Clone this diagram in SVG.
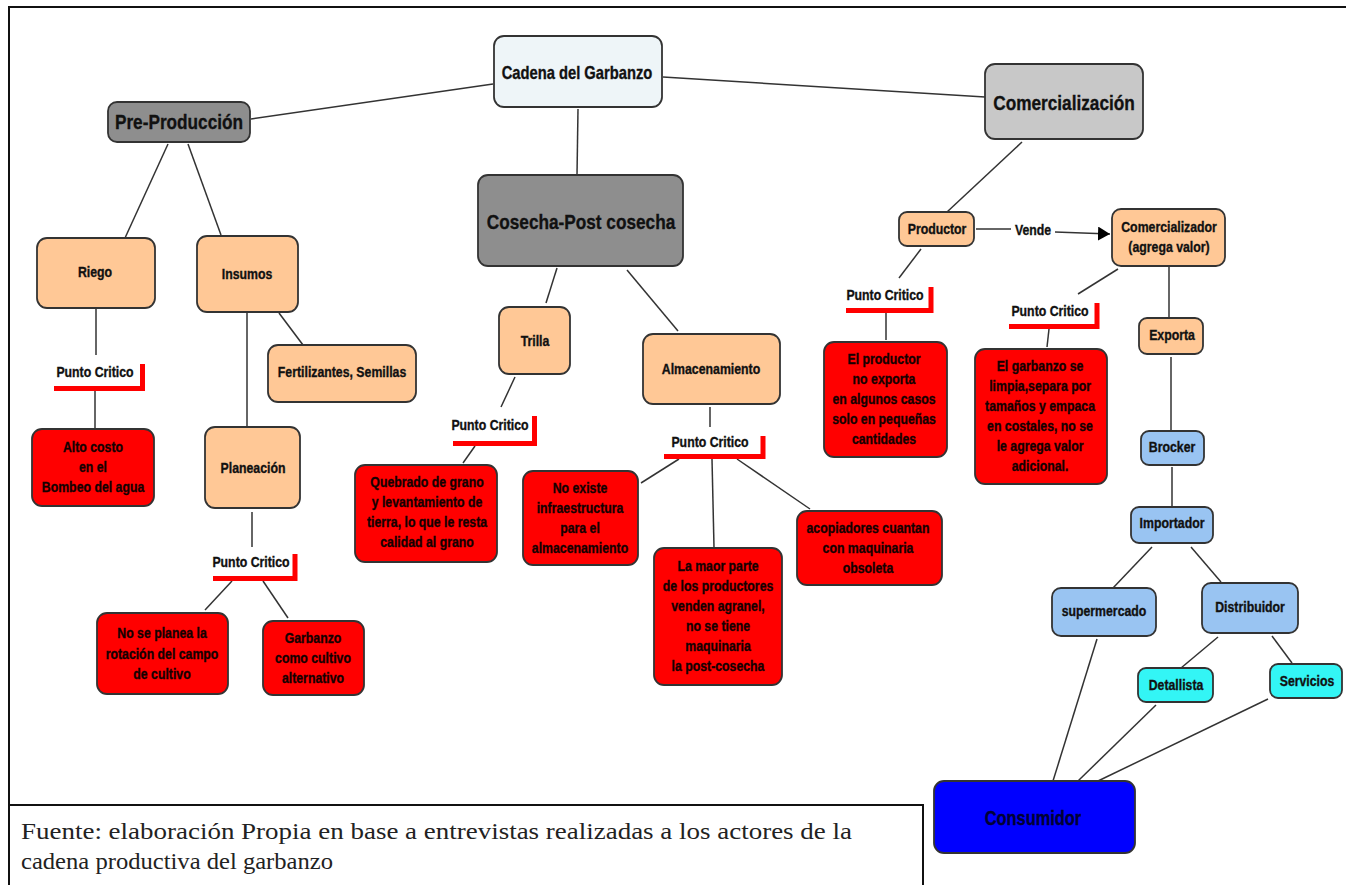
<svg xmlns="http://www.w3.org/2000/svg" width="1346" height="885" viewBox="0 0 1346 885">
<defs>
<style>
.b{stroke:#333;stroke-width:1.8}
.g{fill:#8e8e8e}
.lg{fill:#c8c8c8}
.w{fill:#eef5f8}
.p{fill:#ffc896}
.r{fill:#ff0000}
.bl{fill:#99c4f2}
.cy{fill:#33f5f5}
.db{fill:#0000ff}
text{font-family:"Liberation Sans",Arial,sans-serif;font-weight:bold;text-anchor:middle;fill:#111;stroke:#111;stroke-width:.35;transform-box:fill-box;transform-origin:center;transform:scaleX(.82)}
.s{font-size:15px}
.rt{font-size:15px;fill:#140000;stroke:#140000}
.pc{font-size:15px}
.L{fill:none;stroke:#ff0000;stroke-width:5;stroke-linejoin:miter}
.c line{stroke:#333;stroke-width:1.5}
text.foot{font-family:"Liberation Serif","Times New Roman",serif;font-weight:normal;text-anchor:start;font-size:23px;fill:#222;stroke:none;transform:none}
</style>
<marker id="arr" markerUnits="userSpaceOnUse" markerWidth="13" markerHeight="15" refX="12" refY="7" orient="auto">
<path d="M0,0 L12,7 L0,14 z" fill="#000"/>
</marker>
</defs>
<rect width="1346" height="885" fill="#fff"/>
<g id="frame" fill="none" stroke="#111" stroke-width="2">
<path d="M9,886 V7 H1346"/>
<path d="M9,805 H923 V886"/>
</g>
<g class="c" id="connectors">
<line x1="251" y1="119" x2="493" y2="84"/>
<line x1="578" y1="109" x2="577" y2="175"/>
<line x1="663" y1="77" x2="985" y2="97"/>
<line x1="168" y1="144" x2="125" y2="238"/>
<line x1="188" y1="144" x2="221" y2="235"/>
<line x1="96" y1="308" x2="96" y2="355"/>
<line x1="95" y1="391" x2="95" y2="428"/>
<line x1="247" y1="312" x2="247" y2="427"/>
<line x1="279" y1="313" x2="303" y2="345"/>
<line x1="252" y1="512" x2="252" y2="547"/>
<line x1="232" y1="581" x2="205" y2="610"/>
<line x1="263" y1="581" x2="288" y2="618"/>
<line x1="557" y1="268" x2="546" y2="303"/>
<line x1="627" y1="270" x2="678" y2="331"/>
<line x1="515" y1="377" x2="501" y2="407"/>
<line x1="475" y1="446" x2="463" y2="463"/>
<line x1="710" y1="407" x2="710" y2="427"/>
<line x1="679" y1="459" x2="641" y2="483"/>
<line x1="712" y1="459" x2="714" y2="547"/>
<line x1="737" y1="459" x2="810" y2="509"/>
<line x1="1022" y1="142" x2="947" y2="212"/>
<line x1="976" y1="229" x2="1011" y2="229"/>
<line x1="1055" y1="232" x2="1110" y2="234" marker-end="url(#arr)"/>
<line x1="921" y1="249" x2="899" y2="278"/>
<line x1="886" y1="313" x2="886" y2="340"/>
<line x1="1118" y1="269" x2="1078" y2="294"/>
<line x1="1049" y1="329" x2="1047" y2="347"/>
<line x1="1169" y1="266" x2="1169" y2="318"/>
<line x1="1171" y1="357" x2="1171" y2="431"/>
<line x1="1172" y1="467" x2="1172" y2="507"/>
<line x1="1152" y1="547" x2="1113" y2="588"/>
<line x1="1191" y1="547" x2="1221" y2="582"/>
<line x1="1097" y1="639" x2="1053" y2="781"/>
<line x1="1218" y1="637" x2="1181" y2="668"/>
<line x1="1272" y1="636" x2="1292" y2="663"/>
<line x1="1156" y1="705" x2="1078" y2="781"/>
<line x1="1268" y1="699" x2="1098" y2="781"/>
<text x="1033" y="235" class="s">Vende</text>
</g>
<g id="cadena"><rect class="b w" x="494" y="36" width="168" height="71" rx="10"/><text x="577" y="79.5" style="font-size:18px">Cadena del Garbanzo</text></g>
<g id="preproduccion"><rect class="b g" x="108" y="102" width="142" height="40" rx="9"/><text x="179" y="129.5" style="font-size:21px">Pre-Producción</text></g>
<g id="cosecha"><rect class="b g" x="478" y="175" width="205" height="91" rx="10"/><text x="581" y="229.5" style="font-size:21px">Cosecha-Post cosecha</text></g>
<g id="comercializacion"><rect class="b lg" x="985" y="64" width="158" height="75" rx="10"/><text x="1064" y="110.5" style="font-size:21px">Comercialización</text></g>
<g id="riego"><rect class="b p" x="37" y="238" width="118" height="70" rx="10"/><text x="95" y="277" class="s">Riego</text></g>
<g id="insumos"><rect class="b p" x="197" y="236" width="101" height="76" rx="10"/><text x="247" y="279" class="s">Insumos</text></g>
<g id="fertilizantes"><rect class="b p" x="268" y="345" width="148" height="57" rx="10"/><text x="342" y="377" class="s">Fertilizantes, Semillas</text></g>
<g id="planeacion"><rect class="b p" x="205" y="427" width="95" height="81" rx="10"/><text x="253" y="473" class="s">Planeación</text></g>
<g id="trilla"><rect class="b p" x="499" y="307" width="71" height="67" rx="10"/><text x="535" y="346" class="s">Trilla</text></g>
<g id="almacenamiento"><rect class="b p" x="643" y="334" width="137" height="70" rx="10"/><text x="711" y="374" class="s">Almacenamiento</text></g>
<g id="productor"><rect class="b p" x="899" y="212" width="75" height="34" rx="8"/><text x="937" y="234" class="s">Productor</text></g>
<g id="comercializador"><rect class="b p" x="1112" y="209" width="113" height="57" rx="9"/><text x="1169" y="232" class="s">Comercializador</text><text x="1169" y="252" class="s">(agrega valor)</text></g>
<g id="exporta"><rect class="b p" x="1139" y="318" width="64" height="36" rx="8"/><text x="1172" y="340" class="s">Exporta</text></g>
<g id="brocker"><rect class="b bl" x="1141" y="431" width="63" height="34" rx="8"/><text x="1172" y="452" class="s">Brocker</text></g>
<g id="importador"><rect class="b bl" x="1131" y="507" width="82" height="36" rx="8"/><text x="1172" y="528" class="s">Importador</text></g>
<g id="supermercado"><rect class="b bl" x="1052" y="588" width="104" height="48" rx="9"/><text x="1104" y="616" class="s">supermercado</text></g>
<g id="distribuidor"><rect class="b bl" x="1202" y="583" width="96" height="50" rx="9"/><text x="1250" y="612" class="s">Distribuidor</text></g>
<g id="detallista"><rect class="b cy" x="1138" y="668" width="75" height="34" rx="8"/><text x="1176" y="690" class="s">Detallista</text></g>
<g id="servicios"><rect class="b cy" x="1270" y="664" width="72" height="34" rx="8"/><text x="1307" y="686" class="s">Servicios</text></g>
<g id="consumidor"><rect class="b db" x="934" y="781" width="201" height="72" rx="10"/><text x="1033" y="825" style="font-size:20px;fill:#000033;stroke:#000033">Consumidor</text></g>
<g id="pc1"><path class="L" d="M54,388.5 H142.5 V364"/><text x="95" y="377" class="pc">Punto Critico</text></g>
<g id="pc2"><path class="L" d="M213,578.5 H295 V554"/><text x="251" y="567" class="pc">Punto Critico</text></g>
<g id="pc3"><path class="L" d="M453,443.5 H534.5 V416"/><text x="490" y="430" class="pc">Punto Critico</text></g>
<g id="pc4"><path class="L" d="M664,456.5 H763 V436"/><text x="710" y="447" class="pc">Punto Critico</text></g>
<g id="pc5"><path class="L" d="M846,310.5 H931 V287"/><text x="885" y="300" class="pc">Punto Critico</text></g>
<g id="pc6"><path class="L" d="M1009,326.5 H1097 V303"/><text x="1050" y="316" class="pc">Punto Critico</text></g>
<g id="alto"><rect class="b r" x="32" y="429" width="122" height="77" rx="10"/><text class="rt" x="93" y="452">Alto costo</text><text class="rt" x="93" y="472">en el</text><text class="rt" x="93" y="492">Bombeo del agua</text></g>
<g id="noplanea"><rect class="b r" x="97" y="613" width="131" height="81" rx="10"/><text class="rt" x="162" y="638">No se planea la</text><text class="rt" x="162" y="659">rotación del campo</text><text class="rt" x="162" y="679">de cultivo</text></g>
<g id="garbanzo"><rect class="b r" x="263" y="621" width="101" height="74" rx="10"/><text class="rt" x="313" y="643">Garbanzo</text><text class="rt" x="313" y="663">como cultivo</text><text class="rt" x="313" y="683">alternativo</text></g>
<g id="quebrado"><rect class="b r" x="355" y="465" width="142" height="97" rx="10"/><text class="rt" x="427" y="487">Quebrado de grano</text><text class="rt" x="427" y="507">y levantamiento de</text><text class="rt" x="427" y="527">tierra, lo que le resta</text><text class="rt" x="427" y="547">calidad al grano</text></g>
<g id="noexiste"><rect class="b r" x="523" y="471" width="115" height="94" rx="10"/><text class="rt" x="580" y="493">No existe</text><text class="rt" x="580" y="513">infraestructura</text><text class="rt" x="580" y="533">para el</text><text class="rt" x="580" y="553">almacenamiento</text></g>
<g id="lamaor"><rect class="b r" x="654" y="548" width="128" height="137" rx="10"/><text class="rt" x="718" y="571">La maor parte</text><text class="rt" x="718" y="591">de los productores</text><text class="rt" x="718" y="611">venden agranel,</text><text class="rt" x="718" y="631">no se tiene</text><text class="rt" x="718" y="651">maquinaria</text><text class="rt" x="718" y="671">la post-cosecha</text></g>
<g id="acopiadores"><rect class="b r" x="797" y="511" width="145" height="74" rx="10"/><text class="rt" x="868" y="533">acopiadores cuantan</text><text class="rt" x="868" y="553">con maquinaria</text><text class="rt" x="868" y="573">obsoleta</text></g>
<g id="elproductor"><rect class="b r" x="824" y="342" width="123" height="115" rx="10"/><text class="rt" x="884" y="364">El productor</text><text class="rt" x="884" y="384">no exporta</text><text class="rt" x="884" y="404">en algunos casos</text><text class="rt" x="884" y="424">solo en pequeñas</text><text class="rt" x="884" y="444">cantidades</text></g>
<g id="elgarbanzo"><rect class="b r" x="975" y="349" width="132" height="135" rx="10"/><text class="rt" x="1040" y="371">El garbanzo se</text><text class="rt" x="1040" y="391">limpia,separa por</text><text class="rt" x="1040" y="411">tamaños y empaca</text><text class="rt" x="1040" y="431">en costales, no se</text><text class="rt" x="1040" y="451">le agrega valor</text><text class="rt" x="1040" y="471">adicional.</text></g>
<g id="fuente"><text class="foot" x="21" y="839" textLength="831" lengthAdjust="spacingAndGlyphs">Fuente: elaboración Propia en base a entrevistas realizadas a los actores de la</text><text class="foot" x="21" y="869" textLength="312" lengthAdjust="spacingAndGlyphs">cadena productiva del garbanzo</text></g>
</svg>
